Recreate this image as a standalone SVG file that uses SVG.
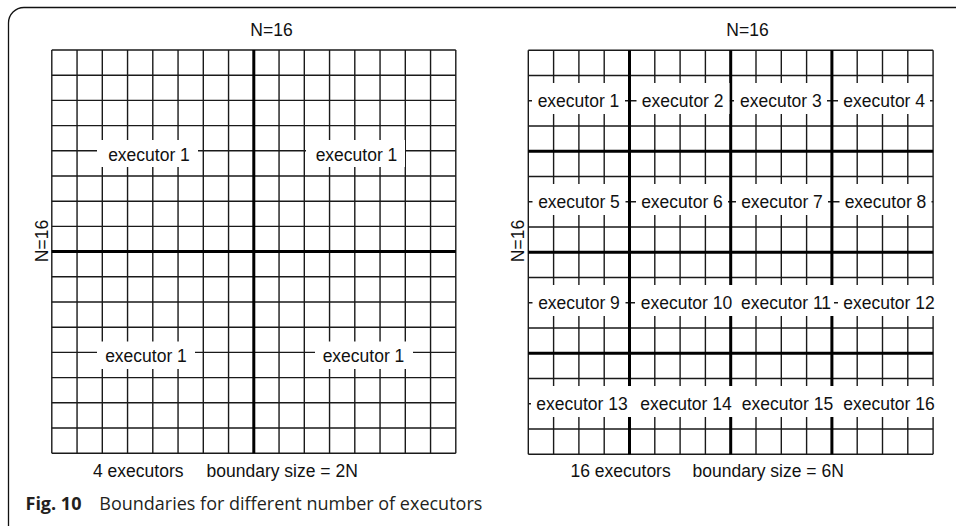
<svg xmlns="http://www.w3.org/2000/svg" width="956" height="526" viewBox="0 0 956 526">
<style>
.thin{stroke:#1a1a1a;stroke-width:1.4;fill:none}
.thick{stroke:#000;stroke-width:3;fill:none}
.bg{fill:#fff}
.lbl{font-family:"Liberation Sans",Arial,sans-serif;font-size:17.5px;fill:#111;text-anchor:middle}
.note{font-family:"Liberation Sans",Arial,sans-serif;font-size:17.5px;fill:#111}
.cap{font-family:"Open Sans","Noto Sans",sans-serif;font-size:18px;fill:#231f20}
</style>
<rect width="956" height="526" fill="#fff"/>
<path d="M956 7.5 H24 A15.5 15.5 0 0 0 8.5 23 V526" fill="none" stroke="#111" stroke-width="1.3"/>

<g id="grid-left">
<path class="thin" d="M51.8 50V453.2M77.05 50V453.2M102.3 50V453.2M127.55 50V453.2M152.8 50V453.2M178.05 50V453.2M203.3 50V453.2M228.55 50V453.2M279.05 50V453.2M304.3 50V453.2M329.55 50V453.2M354.8 50V453.2M380.05 50V453.2M405.3 50V453.2M430.55 50V453.2M455.8 50V453.2"/>
<path class="thin" d="M51.8 50H455.8M51.8 75.2H455.8M51.8 100.4H455.8M51.8 125.6H455.8M51.8 150.8H455.8M51.8 176H455.8M51.8 201.2H455.8M51.8 226.4H455.8M51.8 276.8H455.8M51.8 302H455.8M51.8 327.2H455.8M51.8 352.4H455.8M51.8 377.6H455.8M51.8 402.8H455.8M51.8 428H455.8M51.8 453.2H455.8"/>
<path class="thick" d="M253.8 50V453.2M51.8 251.6H455.8"/>
</g>

<g id="grid-right">
<path class="thin" d="M528.3 50.2V454.2M553.6 50.2V454.2M578.9 50.2V454.2M604.2 50.2V454.2M654.8 50.2V454.2M680.1 50.2V454.2M705.4 50.2V454.2M756 50.2V454.2M781.3 50.2V454.2M806.6 50.2V454.2M857.2 50.2V454.2M882.5 50.2V454.2M907.8 50.2V454.2M933.1 50.2V454.2"/>
<path class="thin" d="M528.3 50.2H933.1M528.3 75.45H933.1M528.3 100.7H933.1M528.3 125.95H933.1M528.3 176.45H933.1M528.3 201.7H933.1M528.3 226.95H933.1M528.3 277.45H933.1M528.3 302.7H933.1M528.3 327.95H933.1M528.3 378.45H933.1M528.3 403.7H933.1M528.3 428.95H933.1M528.3 454.2H933.1"/>
<path class="thick" d="M629.5 50.2V454.2M730.7 50.2V454.2M831.9 50.2V454.2M528.3 151.2H933.1M528.3 252.2H933.1M528.3 353.2H933.1"/>
</g>

<g id="left-labels">
<g id="L-exec-tl"><rect class="bg" x="97" y="140" width="101" height="27"/><text class="lbl" x="149" y="161">executor 1</text></g>
<g id="L-exec-tr"><rect class="bg" x="306" y="140" width="99" height="27"/><text class="lbl" x="356.5" y="161">executor 1</text></g>
<g id="L-exec-bl"><rect class="bg" x="97" y="341.5" width="98" height="27.5"/><text class="lbl" x="146" y="362">executor 1</text></g>
<g id="L-exec-br"><rect class="bg" x="315" y="341.5" width="98" height="27.5"/><text class="lbl" x="363.5" y="362">executor 1</text></g>
</g>

<g id="right-labels">
<g id="R-exec-1"><rect class="bg" x="532" y="83" width="93" height="31"/><text class="lbl" x="578.5" y="107">executor 1</text></g>
<g id="R-exec-2"><rect class="bg" x="636.5" y="83" width="93" height="31"/><text class="lbl" x="682.7" y="107">executor 2</text></g>
<g id="R-exec-3"><rect class="bg" x="734" y="83" width="93" height="31"/><text class="lbl" x="780.8" y="107">executor 3</text></g>
<g id="R-exec-4"><rect class="bg" x="838" y="83" width="92" height="31"/><text class="lbl" x="884.2" y="107">executor 4</text></g>

<g id="R-exec-5"><rect class="bg" x="532.5" y="184" width="93" height="31"/><text class="lbl" x="579" y="208">executor 5</text></g>
<g id="R-exec-6"><rect class="bg" x="636" y="184" width="92" height="31"/><text class="lbl" x="682" y="208">executor 6</text></g>
<g id="R-exec-7"><rect class="bg" x="736" y="184" width="92" height="31"/><text class="lbl" x="782" y="208">executor 7</text></g>
<g id="R-exec-8"><rect class="bg" x="839.5" y="184" width="92" height="31"/><text class="lbl" x="885.5" y="208">executor 8</text></g>

<g id="R-exec-9"><rect class="bg" x="532.5" y="285" width="93" height="31"/><text class="lbl" x="579" y="309">executor 9</text></g>
<g id="R-exec-10"><rect class="bg" x="635" y="285" width="103" height="31"/><text class="lbl" x="686.5" y="309">executor 10</text></g>
<g id="R-exec-11"><rect class="bg" x="738" y="285" width="96" height="31"/><text class="lbl" x="786" y="309">executor 11</text></g>
<g id="R-exec-12"><rect class="bg" x="838" y="285" width="102" height="31"/><text class="lbl" x="889" y="309">executor 12</text></g>

<g id="R-exec-13"><rect class="bg" x="531" y="386" width="103.5" height="31"/><text class="lbl" x="582" y="410">executor 13</text></g>
<g id="R-exec-14"><rect class="bg" x="634" y="386" width="103.5" height="31"/><text class="lbl" x="686" y="410">executor 14</text></g>
<g id="R-exec-15"><rect class="bg" x="737" y="386" width="102" height="31"/><text class="lbl" x="787.5" y="410">executor 15</text></g>
<g id="R-exec-16"><rect class="bg" x="838.5" y="386" width="102.5" height="31"/><text class="lbl" x="889" y="410">executor 16</text></g>
</g>

<g id="axis-labels">
<text class="lbl" x="271.5" y="36">N=16</text>
<text class="lbl" x="747.5" y="36">N=16</text>
<text class="lbl" transform="translate(47.8 241) rotate(-90)">N=16</text>
<text class="lbl" transform="translate(523.5 241) rotate(-90)">N=16</text>
</g>

<g id="notes">
<text class="note" x="93" y="476.5">4 executors</text>
<text class="note" x="206.5" y="476.5">boundary size = 2N</text>
<text class="note" x="570.5" y="477">16 executors</text>
<text class="note" x="692.5" y="477">boundary size = 6N</text>
</g>

<text class="cap" x="25.5" y="510"><tspan font-weight="bold">Fig. 10</tspan><tspan x="99.3">Boundaries for different number of executors</tspan></text>
</svg>
